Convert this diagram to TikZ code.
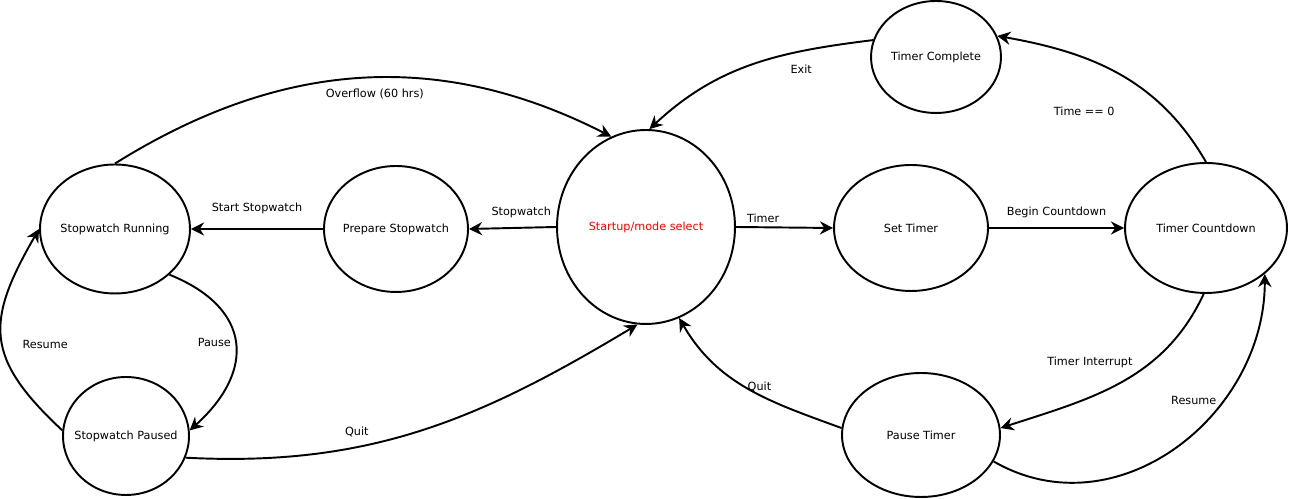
\documentclass[tikz,border=0pt]{standalone}
\usepackage{fontspec}
\setmainfont{DejaVu Sans}
\usetikzlibrary{arrows.meta, shapes.geometric, positioning}

\tikzset{
  state/.style={draw, ellipse, line width=1.1pt, inner sep=-20pt, font=\fontsize{6.4}{7.7}\selectfont},
  trans/.style={-{Stealth[length=7.5pt, width=7.5pt, inset=2.5pt]}, line width=1.1pt},
  lbl/.style={font=\fontsize{6.4}{7.7}\selectfont, inner sep=2pt}
}

\begin{document}
\begin{tikzpicture}[x=0.02cm, y=0.02cm]
    \useasboundingbox (0,0) rectangle (1289,499);

    % states
    \node[state, minimum width=3.56cm, minimum height=3.88cm, text=red] (start) at (646,272) {Startup/mode select};
    \node[state, minimum width=3.0cm, minimum height=2.58cm] (swrun) at (115,270) {Stopwatch Running};
    \node[state, minimum width=2.88cm, minimum height=2.52cm] (swprep) at (396,270) {Prepare Stopwatch};
    \node[state, minimum width=2.52cm, minimum height=2.36cm] (swpause) at (126,63) {Stopwatch Paused};
    \node[state, minimum width=3.08cm, minimum height=2.52cm] (tset) at (911,271) {Set Timer};
    \node[state, minimum width=3.24cm, minimum height=2.6cm] (tcount) at (1206,271) {Timer Countdown};
    \node[state, minimum width=2.6cm, minimum height=2.24cm] (tdone) at (936,442) {Timer Complete};
    \node[state, minimum width=3.16cm, minimum height=2.48cm] (tpause) at (921,64) {Pause Timer};

    % straight transitions
    \draw[trans] (start.west) -- node[lbl, above=3pt, pos=0.4]{Stopwatch} (swprep.east);
    \draw[trans] (swprep.west) -- node[lbl, above=6pt]{Start Stopwatch} (swrun.east);
    \draw[trans] (start.east) -- node[lbl, above, pos=0.28]{Timer} (tset.west);
    \draw[trans] (tset.east) -- node[lbl, above=3pt]{Begin Countdown} (tcount.west);

    % stopwatch side
    \draw[trans] (swrun.90) to [out=32, in=153] node[lbl, below=4pt, pos=0.53]{Overflow (60 hrs)} (start.111);
    \draw[trans] (swrun.-40) to [out=-22, in=42, looseness=1.45] node[lbl, left, pos=0.5]{Pause} (swpause.5);
    \draw[trans] (swpause.175) to [out=137, in=240, looseness=1.35] node[lbl, right=9pt, pos=0.46]{Resume} (swrun.west);
    \draw[trans] (swpause.-20) to [out=-3, in=211] node[lbl, above=3pt, pos=0.35]{Quit} (start.265);

    % timer side
    \draw[trans] (tdone.165) to [out=187, in=43] node[lbl, below=5pt, pos=0.28]{Exit} (start.88);
    \draw[trans] (tcount.90) to [out=120, in=350] node[lbl, below left=16pt and 0pt, pos=0.5]{Time == 0} (tdone.19);
    \draw[trans] (tcount.-92) to [out=245, in=18] node[lbl, above left, pos=0.42]{Timer Interrupt} (tpause.5);
    \draw[trans] (tpause.-20) to [out=-30, in=-90, looseness=1.1] node[lbl, left=1pt, pos=0.67]{Resume} (tcount.-38);
    \draw[trans] (tpause.175) to [out=160, in=300] node[lbl, below right=1pt and 8pt, pos=0.62]{Quit} (start.-70);
\end{tikzpicture}
\end{document}
